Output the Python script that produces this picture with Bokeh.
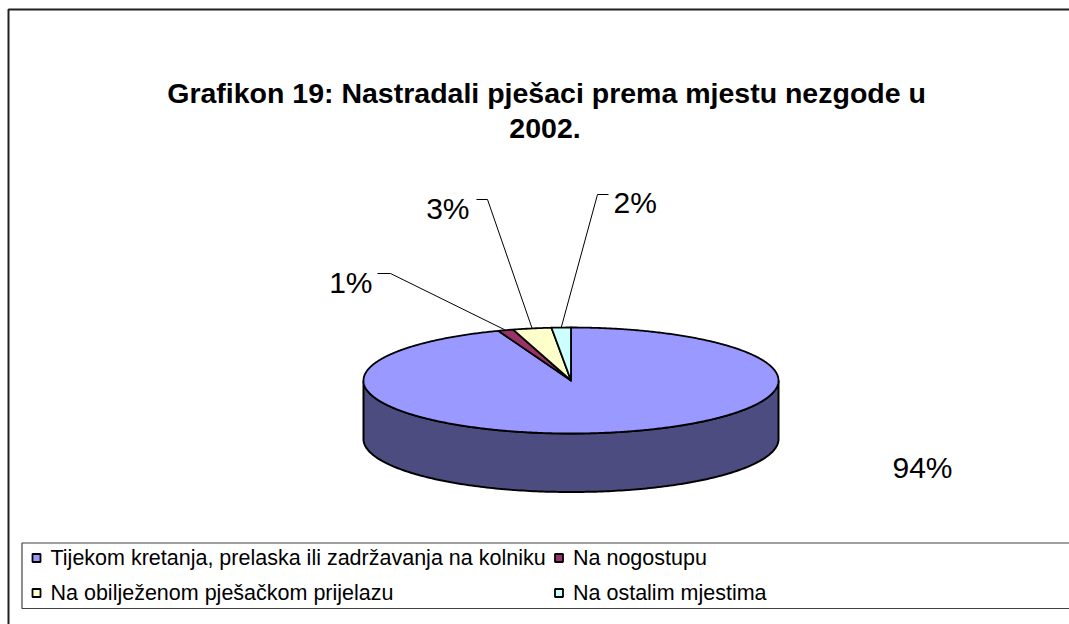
import numpy as np
from bokeh.plotting import figure
from bokeh.models import Range1d, ColumnDataSource
from bokeh.core.properties import value
from bokeh.embed import file_html
from bokeh.resources import INLINE

# ---- data ----
categories = ["Tijekom kretanja, prelaska ili zadržavanja na kolniku",
              "Na nogostupu",
              "Na obilježenom pješačkom prijelazu",
              "Na ostalim mjestima"]
shares = [94.3, 1.2, 3.0, 1.5]
top_colors = ["#9999FF", "#993366", "#FFFFCC", "#CCFFFF"]
side_colors = ["#4C4C80", "#4D1A33", "#808066", "#668080"]
title_lines = ["Grafikon 19: Nastradali pješaci prema mjestu nezgode  u", "2002."]

# ---- layout (pixels, y down) ----
W, H = 1069, 624
FONT = "Liberation Sans"
cx, cy, a, b, depth = 570.5, 380.0, 207.5, 53.0, 58.5

p = figure(width=W, height=H, x_range=Range1d(0, W), y_range=Range1d(H, 0),
           output_backend="svg", toolbar_location=None, min_border=0,
           x_axis_location=None, y_axis_location=None)
p.grid.visible = False
p.outline_line_color = None
p.background_fill_color = "white"
p.border_fill_color = "white"

def ell(theta_deg, dy=0.0):
    t = np.radians(theta_deg)
    return cx + a * np.sin(t), cy - b * np.cos(t) + dy

# slice angles (clockwise from 12 o'clock)
total = sum(shares)
bounds = np.concatenate([[0.0], np.cumsum(shares) / total * 360.0])

# side wall (front half)
side_xs, side_ys, side_cols = [], [], []
for i in range(len(shares)):
    t0, t1 = max(bounds[i], 90.0), min(bounds[i + 1], 270.0)
    if t1 <= t0:
        continue
    th = np.linspace(t0, t1, 200)
    x1, y1 = ell(th)
    x2, y2 = ell(th[::-1], depth)
    side_xs.append(list(np.concatenate([x1, x2])))
    side_ys.append(list(np.concatenate([y1, y2])))
    side_cols.append(side_colors[i])
p.patches(side_xs, side_ys, fill_color=side_cols, line_color="black", line_width=2)

# top faces
top_xs, top_ys = [], []
for i in range(len(shares)):
    n = max(4, int((bounds[i + 1] - bounds[i]) * 2))
    th = np.linspace(bounds[i], bounds[i + 1], n)
    x, y = ell(th)
    top_xs.append([cx] + list(x))
    top_ys.append([cy] + list(y))
p.patches(top_xs, top_ys, fill_color=top_colors, line_color="black", line_width=1.8,
          line_join="round")

# labels
labels = [f"{int(s + 0.5)}%" for s in shares]
lab_pos = [(892, 467, "left"), (372, 282, "right"), (469, 208, "right"), (613, 202, "left")]
for i, (lx, ly, al) in enumerate(lab_pos):
    p.text([lx], [ly], text=[labels[i]], text_font=value(FONT), text_font_size="30px",
           text_align=al, text_baseline="alphabetic", text_color="black")

# leader lines for small slices
elbows = {1: [(377, 273), (390, 273)], 2: [(476, 199), (487, 199)], 3: [(608, 194), (597, 194)]}
for i, pts in elbows.items():
    mid = 0.5 * (bounds[i] + bounds[i + 1])
    ex, ey = ell(mid)
    xs = [pts[0][0], pts[1][0], ex]
    ys = [pts[0][1], pts[1][1], ey]
    p.line(xs, ys, line_color="black", line_width=1)

# title
p.text([550], [92], text=[title_lines[0]], text_font=value(FONT), text_font_size="28.5px",
       text_font_style="bold", text_align="center", text_baseline="alphabetic")
p.text([544.5], [128], text=[title_lines[1]], text_font=value(FONT), text_font_size="28.5px",
       text_font_style="bold", text_align="center", text_baseline="alphabetic")

# legend box
p.line([W + 20, 21.5, 21.5, W + 20], [542.5, 542.5, 608, 608], line_color="#404040", line_width=1.2)
leg_pos = [(36, 557.5), (558.5, 557.5), (36, 592.5), (558.5, 592.5)]
src = ColumnDataSource(dict(x=[q[0] for q in leg_pos], y=[q[1] for q in leg_pos],
                            c=top_colors, t=categories,
                            tx=[q[0] + 14 for q in leg_pos]))
p.rect(x="x", y="y", width=8, height=8, fill_color="c", line_color="black",
       line_width=1.8, source=src)
p.text(x="tx", y="y", text="t", text_font=value(FONT), text_font_size="21.5px",
       text_baseline="middle", text_align="left", source=src)

# outer frame (top & left edges visible)
p.line([8, 8, W + 20], [H + 20, 9, 9], line_color="#202020", line_width=2)

open("out.html", "w").write(file_html(p, INLINE))
